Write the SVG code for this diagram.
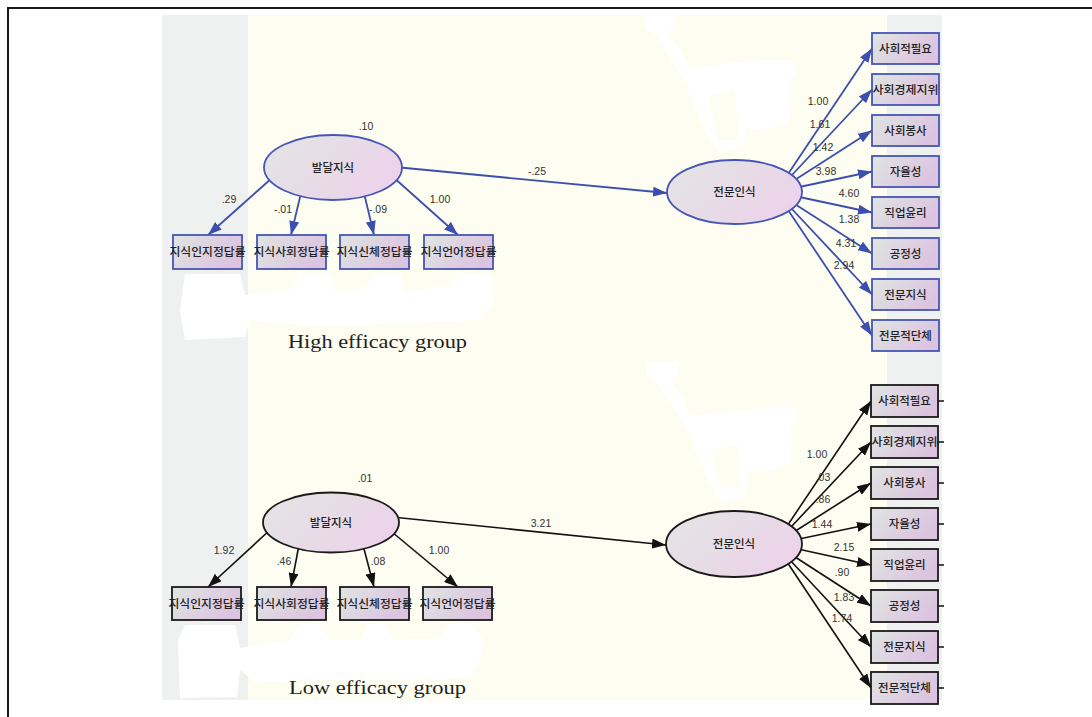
<svg xmlns="http://www.w3.org/2000/svg" width="1092" height="717" viewBox="0 0 1092 717">
<style>
.bx{stroke-width:1.8}
.bl{stroke:#3d4fae;fill:none;stroke-width:1.8}
.bk{stroke:#111;fill:none;stroke-width:1.6}
.kb{stroke:#4556b4}
.kk{stroke:#1a1a1a}
.lb{font-family:"Noto Sans CJK KR","Noto Sans",sans-serif;font-size:11.5px;font-weight:500;fill:#222;text-anchor:middle}
.num{font-family:"Liberation Sans",Arial,sans-serif;font-size:10.5px;fill:#333;text-anchor:middle}
.cap{font-family:"Liberation Serif","DejaVu Serif",serif;font-size:19px;fill:#222}
</style>
<defs>
<linearGradient id="gb" x1="0" y1="0" x2="1" y2="0.4"><stop offset="0" stop-color="#dfe5e2"/><stop offset="1" stop-color="#dcc4e0"/></linearGradient>
<linearGradient id="ge" x1="0" y1="0" x2="1" y2="0.5"><stop offset="0" stop-color="#e2e6e3"/><stop offset="1" stop-color="#ecd3ea"/></linearGradient>
<marker id="ab" viewBox="0 0 14 10" refX="14" refY="5" markerWidth="14" markerHeight="10" markerUnits="userSpaceOnUse" orient="auto"><path d="M0,0 L14,5 L0,10 Z" fill="#3d4fae"/></marker>
<marker id="ak" viewBox="0 0 14 10" refX="14" refY="5" markerWidth="14" markerHeight="10" markerUnits="userSpaceOnUse" orient="auto"><path d="M0,0 L14,5 L0,10 Z" fill="#111"/></marker>
</defs>
<rect width="1092" height="717" fill="#fff"/>
<g id="frame"><path d="M1092,8 L8,8 L8,717" fill="none" stroke="#1a1a1a" stroke-width="2"/></g>
<g id="background">
<rect x="162" y="15" width="86" height="685" fill="#eff1f0"/>
<rect x="248" y="15" width="639" height="685" fill="#fdfdf1"/>
<rect x="887" y="15" width="55" height="685" fill="#eff1f0"/>
</g>
<g id="erasures" fill="#fff" fill-rule="evenodd">
<path d="M645,14 L676,14 L676,28 L668,30 L690,68 L760,60 L796,60 L796,76 L789,78 L789,122 L770,128 L746,130 L743,148 L718,151 L705,130 L692,100 L686,82 L655,34 L645,28 Z M708,96 L735,90 L738,140 L718,140 Z"/>
<path transform="translate(2,348)" d="M645,14 L676,14 L676,28 L668,30 L690,68 L760,60 L796,60 L796,76 L789,78 L789,114 L770,122 L746,124 L743,150 L718,153 L705,130 L692,100 L686,82 L655,34 L645,28 Z M708,102 L735,96 L738,140 L718,140 Z"/>
<path d="M185,274 L240,274 L245,295 L290,290 L300,273 L330,273 L335,292 L365,288 L375,273 L400,273 L405,292 L450,285 L460,273 L492,276 L495,300 L480,320 L420,322 L360,325 L300,325 L250,320 L245,337 L185,340 L180,310 Z"/>
<path d="M185,625 L235,625 L240,648 L290,640 L300,624 L320,624 L330,640 L360,640 L370,624 L385,624 L392,640 L440,638 L450,624 L470,624 L485,640 L480,660 L470,678 L400,680 L300,680 L255,682 L240,670 L237,697 L180,698 L178,640 Z"/>
</g>
<g id="connectors">
<line class="bl" x1="272" y1="178" x2="208" y2="235" marker-end="url(#ab)"/>
<line class="bl" x1="301" y1="193" x2="291" y2="235" marker-end="url(#ab)"/>
<line class="bl" x1="364" y1="193" x2="374" y2="235" marker-end="url(#ab)"/>
<line class="bl" x1="392" y1="176" x2="458" y2="235" marker-end="url(#ab)"/>
<line class="bl" x1="395" y1="167" x2="667" y2="193" marker-end="url(#ab)"/>
<line class="bl" x1="776" y1="192" x2="872" y2="48.5" marker-end="url(#ab)"/>
<line class="bl" x1="776" y1="192" x2="872" y2="89.5" marker-end="url(#ab)"/>
<line class="bl" x1="776" y1="192" x2="872" y2="130.5" marker-end="url(#ab)"/>
<line class="bl" x1="776" y1="192" x2="872" y2="171.5" marker-end="url(#ab)"/>
<line class="bl" x1="776" y1="192" x2="872" y2="212.5" marker-end="url(#ab)"/>
<line class="bl" x1="776" y1="192" x2="872" y2="253.5" marker-end="url(#ab)"/>
<line class="bl" x1="776" y1="192" x2="872" y2="294.5" marker-end="url(#ab)"/>
<line class="bl" x1="776" y1="192" x2="872" y2="335.5" marker-end="url(#ab)"/>
<line class="bk" x1="271" y1="529" x2="208" y2="587" marker-end="url(#ak)"/>
<line class="bk" x1="299" y1="545" x2="291" y2="587" marker-end="url(#ak)"/>
<line class="bk" x1="363" y1="545" x2="374" y2="587" marker-end="url(#ak)"/>
<line class="bk" x1="392" y1="532" x2="458" y2="587" marker-end="url(#ak)"/>
<line class="bk" x1="392" y1="517" x2="666" y2="545" marker-end="url(#ak)"/>
<line class="bk" x1="775" y1="544" x2="871" y2="401" marker-end="url(#ak)"/>
<line class="bk" x1="775" y1="544" x2="871" y2="442" marker-end="url(#ak)"/>
<line class="bk" x1="775" y1="544" x2="871" y2="483" marker-end="url(#ak)"/>
<line class="bk" x1="775" y1="544" x2="871" y2="524" marker-end="url(#ak)"/>
<line class="bk" x1="775" y1="544" x2="871" y2="565" marker-end="url(#ak)"/>
<line class="bk" x1="775" y1="544" x2="871" y2="606" marker-end="url(#ak)"/>
<line class="bk" x1="775" y1="544" x2="871" y2="647" marker-end="url(#ak)"/>
<line class="bk" x1="775" y1="544" x2="871" y2="688" marker-end="url(#ak)"/>
<path class="bk" d="M938,401h6M938,442h6M938,483h6M938,524h6M938,565h6M938,606h6M938,647h6M938,688h6"/>
</g>
<g id="labels">
<text class="num" x="366" y="130">.10</text>
<text class="num" x="229" y="203">.29</text>
<text class="num" x="283" y="213">-.01</text>
<text class="num" x="378" y="213">-.09</text>
<text class="num" x="440" y="203">1.00</text>
<text class="num" x="537" y="175">-.25</text>
<text class="num" x="818" y="105">1.00</text>
<text class="num" x="820" y="128">1.61</text>
<text class="num" x="823" y="151">1.42</text>
<text class="num" x="826" y="175">3.98</text>
<text class="num" x="849" y="197">4.60</text>
<text class="num" x="849" y="223">1.38</text>
<text class="num" x="846" y="247">4.31</text>
<text class="num" x="844" y="269">2.94</text>
<text class="num" x="365" y="482">.01</text>
<text class="num" x="224" y="554">1.92</text>
<text class="num" x="284" y="565">.46</text>
<text class="num" x="378" y="565">.08</text>
<text class="num" x="439" y="554">1.00</text>
<text class="num" x="541" y="527">3.21</text>
<text class="num" x="817" y="458">1.00</text>
<text class="num" x="823" y="481">.03</text>
<text class="num" x="823" y="503">.86</text>
<text class="num" x="822" y="528">1.44</text>
<text class="num" x="844" y="551">2.15</text>
<text class="num" x="842" y="576">.90</text>
<text class="num" x="844" y="601">1.83</text>
<text class="num" x="842" y="622">1.74</text>
<text class="cap" x="288" y="348" textLength="179" lengthAdjust="spacingAndGlyphs">High efficacy group</text>
<text class="cap" x="289" y="694" textLength="177" lengthAdjust="spacingAndGlyphs">Low efficacy group</text>
</g>
<g id="high-발달지식"><ellipse class="kb bx" cx="333" cy="167.5" rx="69" ry="32.5" fill="url(#ge)"/><text class="lb" x="333" y="171.5">발달지식</text></g>
<g id="high-지식인지정답률"><rect class="kb bx" x="173" y="235" width="69" height="34" fill="url(#gb)"/><text class="lb" x="207.5" y="256" textLength="76" lengthAdjust="spacingAndGlyphs">지식인지정답률</text></g>
<g id="high-지식사회정답률"><rect class="kb bx" x="257" y="235" width="69" height="34" fill="url(#gb)"/><text class="lb" x="291.5" y="256" textLength="76" lengthAdjust="spacingAndGlyphs">지식사회정답률</text></g>
<g id="high-지식신체정답률"><rect class="kb bx" x="340" y="235" width="69" height="34" fill="url(#gb)"/><text class="lb" x="374.5" y="256" textLength="76" lengthAdjust="spacingAndGlyphs">지식신체정답률</text></g>
<g id="high-지식언어정답률"><rect class="kb bx" x="424" y="235" width="69" height="34" fill="url(#gb)"/><text class="lb" x="458.5" y="256" textLength="76" lengthAdjust="spacingAndGlyphs">지식언어정답률</text></g>
<g id="high-전문인식"><ellipse class="kb bx" cx="734.5" cy="192" rx="67.5" ry="32" fill="url(#ge)"/><text class="lb" x="734.5" y="196">전문인식</text></g>
<g id="high-사회적필요"><rect class="kb bx" x="872" y="33" width="67" height="31" fill="url(#gb)"/><text class="lb" x="905.5" y="52.5">사회적필요</text></g>
<g id="high-사회경제지위"><rect class="kb bx" x="872" y="74" width="67" height="31" fill="url(#gb)"/><text class="lb" x="905.5" y="93.5" textLength="66" lengthAdjust="spacingAndGlyphs">사회경제지위</text></g>
<g id="high-사회봉사"><rect class="kb bx" x="872" y="115" width="67" height="31" fill="url(#gb)"/><text class="lb" x="905.5" y="134.5">사회봉사</text></g>
<g id="high-자율성"><rect class="kb bx" x="872" y="156" width="67" height="31" fill="url(#gb)"/><text class="lb" x="905.5" y="175.5">자율성</text></g>
<g id="high-직업윤리"><rect class="kb bx" x="872" y="197" width="67" height="31" fill="url(#gb)"/><text class="lb" x="905.5" y="216.5">직업윤리</text></g>
<g id="high-공정성"><rect class="kb bx" x="872" y="238" width="67" height="31" fill="url(#gb)"/><text class="lb" x="905.5" y="257.5">공정성</text></g>
<g id="high-전문지식"><rect class="kb bx" x="872" y="279" width="67" height="31" fill="url(#gb)"/><text class="lb" x="905.5" y="298.5">전문지식</text></g>
<g id="high-전문적단체"><rect class="kb bx" x="872" y="320" width="67" height="31" fill="url(#gb)"/><text class="lb" x="905.5" y="339.5">전문적단체</text></g>
<g id="low-발달지식"><ellipse class="kk bx" cx="331" cy="522.5" rx="68" ry="30" fill="url(#ge)"/><text class="lb" x="331" y="526.5">발달지식</text></g>
<g id="low-지식인지정답률"><rect class="kk bx" x="172" y="587" width="69" height="33" fill="url(#gb)"/><text class="lb" x="206.5" y="607.5" textLength="76" lengthAdjust="spacingAndGlyphs">지식인지정답률</text></g>
<g id="low-지식사회정답률"><rect class="kk bx" x="257" y="587" width="69" height="33" fill="url(#gb)"/><text class="lb" x="291.5" y="607.5" textLength="76" lengthAdjust="spacingAndGlyphs">지식사회정답률</text></g>
<g id="low-지식신체정답률"><rect class="kk bx" x="340" y="587" width="69" height="33" fill="url(#gb)"/><text class="lb" x="374.5" y="607.5" textLength="76" lengthAdjust="spacingAndGlyphs">지식신체정답률</text></g>
<g id="low-지식언어정답률"><rect class="kk bx" x="423" y="587" width="69" height="33" fill="url(#gb)"/><text class="lb" x="457.5" y="607.5" textLength="76" lengthAdjust="spacingAndGlyphs">지식언어정답률</text></g>
<g id="low-전문인식"><ellipse class="kk bx" cx="734" cy="544" rx="68" ry="33" fill="url(#ge)"/><text class="lb" x="734" y="548">전문인식</text></g>
<g id="low-사회적필요"><rect class="kk bx" x="871" y="385" width="67" height="32" fill="url(#gb)"/><text class="lb" x="904.5" y="405">사회적필요</text></g>
<g id="low-사회경제지위"><rect class="kk bx" x="871" y="426" width="67" height="32" fill="url(#gb)"/><text class="lb" x="904.5" y="446" textLength="66" lengthAdjust="spacingAndGlyphs">사회경제지위</text></g>
<g id="low-사회봉사"><rect class="kk bx" x="871" y="467" width="67" height="32" fill="url(#gb)"/><text class="lb" x="904.5" y="487">사회봉사</text></g>
<g id="low-자율성"><rect class="kk bx" x="871" y="508" width="67" height="32" fill="url(#gb)"/><text class="lb" x="904.5" y="528">자율성</text></g>
<g id="low-직업윤리"><rect class="kk bx" x="871" y="549" width="67" height="32" fill="url(#gb)"/><text class="lb" x="904.5" y="569">직업윤리</text></g>
<g id="low-공정성"><rect class="kk bx" x="871" y="590" width="67" height="32" fill="url(#gb)"/><text class="lb" x="904.5" y="610">공정성</text></g>
<g id="low-전문지식"><rect class="kk bx" x="871" y="631" width="67" height="32" fill="url(#gb)"/><text class="lb" x="904.5" y="651">전문지식</text></g>
<g id="low-전문적단체"><rect class="kk bx" x="871" y="672" width="67" height="32" fill="url(#gb)"/><text class="lb" x="904.5" y="692">전문적단체</text></g>
</svg>
